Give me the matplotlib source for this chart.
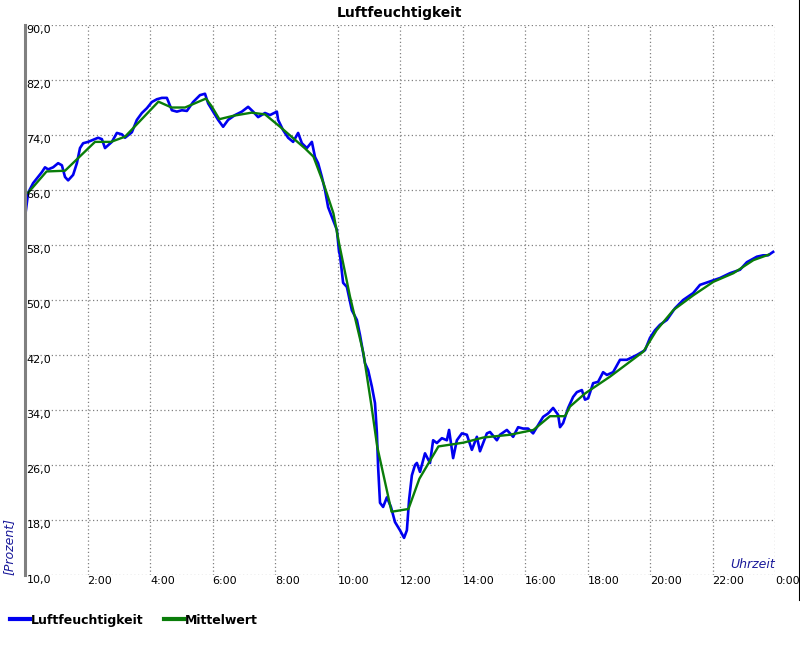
import matplotlib
matplotlib.use("Agg")
import matplotlib.pyplot as plt

hum_hours = [0.00, 0.10, 0.26, 0.42, 0.54, 0.64, 0.74, 0.90, 1.06, 1.18, 1.28, 1.38,
             1.54, 1.66, 1.76, 1.86, 2.02, 2.18, 2.34, 2.46, 2.56, 2.66, 2.78, 2.94,
             3.10, 3.20, 3.42, 3.58, 3.74, 3.90, 4.06, 4.22, 4.38, 4.54, 4.70, 4.86,
             5.02, 5.18, 5.38, 5.60, 5.76, 5.86, 6.02, 6.18, 6.34, 6.50, 6.72, 6.94,
             7.14, 7.30, 7.46, 7.68, 7.84, 8.06, 8.10, 8.26, 8.42, 8.58, 8.74, 8.86,
             9.02, 9.18, 9.28, 9.38, 9.50, 9.60, 9.70, 9.86, 9.98, 10.05, 10.08, 10.18,
             10.30, 10.46, 10.62, 10.72, 10.88, 10.98, 11.10, 11.20, 11.26, 11.30, 11.36, 11.46,
             11.58, 11.71, 11.84, 12.00, 12.13, 12.22, 12.29, 12.38, 12.48, 12.54, 12.64, 12.80,
             12.96, 13.06, 13.18, 13.34, 13.50, 13.57, 13.70, 13.82, 13.98, 14.14, 14.30, 14.46,
             14.56, 14.78, 14.88, 15.10, 15.20, 15.42, 15.62, 15.78, 15.94, 16.10, 16.26, 16.42,
             16.58, 16.74, 16.90, 17.06, 17.12, 17.22, 17.38, 17.54, 17.66, 17.82, 17.92, 18.02,
             18.18, 18.34, 18.50, 18.62, 18.82, 19.04, 19.26, 19.58, 19.84, 20.00, 20.16, 20.32,
             20.54, 20.80, 21.06, 21.38, 21.60, 21.86, 22.24, 22.56, 22.88, 23.10, 23.42, 23.62,
             23.78, 23.94]
hum_values = [62.0, 65.6, 67.0, 67.9, 68.6, 69.3, 69.0, 69.3, 69.9, 69.6, 67.9, 67.4,
              68.2, 69.9, 72.1, 72.8, 73.0, 73.3, 73.6, 73.4, 72.1, 72.5, 73.0, 74.3,
              74.1, 73.6, 74.4, 76.2, 77.2, 77.9, 78.8, 79.2, 79.4, 79.4, 77.6, 77.4,
              77.6, 77.5, 78.8, 79.8, 80.0, 78.6, 77.4, 76.2, 75.2, 76.2, 76.9, 77.4,
              78.1, 77.4, 76.6, 77.2, 76.9, 77.4, 76.2, 74.7, 73.6, 73.0, 74.3, 72.8,
              72.1, 73.0, 70.8, 69.9, 67.9, 66.0, 63.5, 61.6, 60.2, 57.0, 56.5, 52.5,
              51.9, 48.5, 47.1, 44.9, 40.8, 39.8, 37.4, 35.0, 30.7, 25.7, 20.5, 19.9,
              21.3, 19.9, 17.7, 16.5, 15.4, 16.5, 20.9, 24.5, 26.0, 26.3, 25.0, 27.7,
              26.3, 29.6, 29.2, 29.9, 29.6, 31.1, 27.0, 29.6, 30.6, 30.4, 28.2, 30.1,
              28.0, 30.6, 30.8, 29.6, 30.4, 31.1, 30.1, 31.5, 31.3, 31.3, 30.6, 31.8,
              33.0, 33.5, 34.3, 33.3, 31.5, 32.1, 34.3, 35.9, 36.6, 36.9, 35.5, 35.7,
              37.9, 38.1, 39.5, 39.1, 39.5, 41.3, 41.3, 42.0, 42.7, 44.5, 45.6, 46.4,
              47.1, 48.8, 50.0, 51.0, 52.2, 52.6, 53.2, 53.9, 54.4, 55.5, 56.3, 56.5,
              56.5, 57.0]

# Mittelwert
mean_hours = [0.10, 0.69, 1.28, 2.24, 2.75, 3.20, 4.27, 4.69, 5.12, 5.33, 5.79, 5.97,
              6.22, 6.67, 7.25, 7.68, 8.16, 8.96, 9.23, 9.55, 9.87, 10.05, 10.40, 10.83,
              11.09, 11.27, 11.73, 12.27, 12.62, 13.23, 14.03, 14.67, 15.52, 16.27, 16.80, 17.28,
              17.44, 17.92, 18.72, 19.79, 20.21, 20.75, 21.39, 22.03, 22.67, 23.31, 23.80]
mean_values = [65.6, 68.7, 68.8, 73.0, 73.0, 73.75, 78.85, 78.0, 78.0, 78.4, 79.3, 78.2,
               76.3, 76.8, 77.25, 77.0, 75.2, 72.05, 70.85, 67.0, 62.6, 58.25, 50.5, 42.25,
               34.5, 28.7, 19.2, 19.6, 24.0, 28.7, 29.25, 30.0, 30.4, 31.1, 33.1, 33.1,
               34.5, 36.4, 38.85, 42.5, 45.6, 48.55, 50.7, 52.65, 53.9, 55.8, 56.6]

y_ticks = [10, 18, 26, 34, 42, 50, 58, 66, 74, 82, 90]
x_ticks = list(range(0, 25, 2))
x_labels = [""] + [f"{h}:00" for h in range(2, 24, 2)] + ["0:00"]

fig = plt.figure(figsize=(8, 6.5), dpi=100)
ax = fig.add_axes([25 / 800, 75 / 650, 750 / 800, 550 / 650])

ax.plot(hum_hours, hum_values, color="#0000f0", linewidth=1.9, label="Luftfeuchtigkeit")
ax.plot(mean_hours, mean_values, color="#0a7d0a", linewidth=1.7, label="Mittelwert")

ax.set_xlim(0, 24)
ax.set_ylim(10, 90)
ax.set_xticks(x_ticks)
ax.set_xticklabels(x_labels, fontsize=8, ha="left")
ax.set_yticks(y_ticks)
ax.set_yticklabels([])
ax.tick_params(length=0, pad=1)
for lbl in ax.get_xticklabels():
    lbl.set_x(lbl.get_position()[0])
ax.grid(True, color="#808080", linestyle=(0, (1, 2)), linewidth=0.9)

for side in ["top", "right", "bottom"]:
    ax.spines[side].set_visible(False)
ax.spines["left"].set_color("#808080")
ax.spines["left"].set_linewidth(2.2)

# y-Beschriftungen direkt unter den Gitterlinien
for v in y_ticks:
    ax.text(0.05, v, f"{v},0", fontsize=8, ha="left", va="top",
            transform=ax.transData, clip_on=False)

ax.text(-0.012, 0.0, "[Prozent]", transform=ax.transAxes, rotation=90, style="italic",
        color="#1a1a9a", fontsize=9, ha="right", va="bottom")
ax.text(1.0, 0.008, "Uhrzeit", transform=ax.transAxes, style="italic",
        color="#1a1a9a", fontsize=9, ha="right", va="bottom")

fig.text(0.5, 0.99, "Luftfeuchtigkeit", ha="center", va="top", fontsize=10, fontweight="bold")

# Rahmenlinie rechts
fig.add_artist(plt.Line2D([799.5 / 800, 799.5 / 800], [1.0, 50 / 650], color="black",
                          linewidth=1.5, transform=fig.transFigure))

fig.legend(loc="lower left", bbox_to_anchor=(10 / 800, 0.036), ncol=2, frameon=False,
           borderpad=0, borderaxespad=0,
           handlelength=1.6, handletextpad=0.1, columnspacing=1.6,
           prop={"weight": "bold", "size": 9})
for line in fig.legends[0].get_lines():
    line.set_linewidth(3)

fig.savefig("out.png", dpi=100)
